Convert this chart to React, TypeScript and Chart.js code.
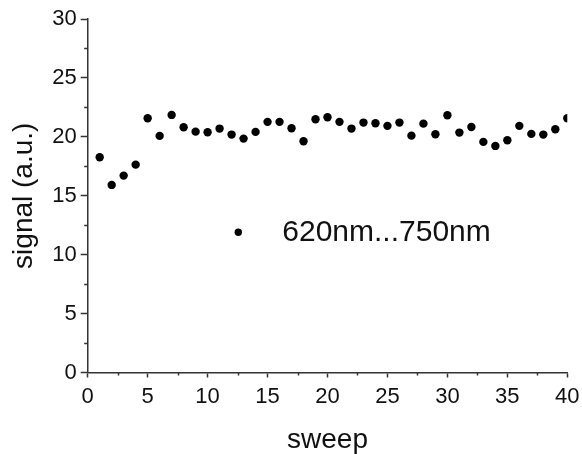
import React, { useEffect, useRef } from "react";
import { Chart, registerables } from "chart.js";

Chart.register(...registerables);

const sweeps = [1, 2, 3, 4, 5, 6, 7, 8, 9, 10, 11, 12, 13, 14, 15, 16, 17, 18, 19, 20,
  21, 22, 23, 24, 25, 26, 27, 28, 29, 30, 31, 32, 33, 34, 35, 36, 37, 38, 39, 40];
const signal = [18.27, 15.92, 16.71, 17.64, 21.58, 20.08, 21.86, 20.81, 20.44, 20.39,
  20.70, 20.19, 19.85, 20.42, 21.27, 21.27, 20.73, 19.63, 21.49, 21.66,
  21.27, 20.70, 21.21, 21.15, 20.93, 21.21, 20.10, 21.12, 20.22, 21.83,
  20.36, 20.84, 19.57, 19.23, 19.71, 20.93, 20.25, 20.19, 20.64, 21.58];
const seriesLabel = "620nm...750nm";
const xTitle = "sweep";
const yTitle = "signal (a.u.)";
const xMinorTicks = [2.5, 7.5, 12.5, 17.5, 22.5, 27.5, 32.5, 37.5];
const yMinorTicks = [2.5, 7.5, 12.5, 17.5, 22.5, 27.5];

const FONT = "'Liberation Sans', Arial, sans-serif";
const INK = "#111111";
const AXIS = "#333333";

const decorPlugin = {
  id: "decor",
  afterDraw(chart: any) {
    const ctx = chart.ctx;
    const xs = chart.scales.x;
    const ys = chart.scales.y;
    ctx.save();
    ctx.strokeStyle = AXIS;
    ctx.lineWidth = 1.5;
    ctx.beginPath();
    for (const v of xMinorTicks) {
      const px = Math.round(xs.getPixelForValue(v)) + 0.5;
      ctx.moveTo(px, ys.bottom);
      ctx.lineTo(px, ys.bottom + 3);
    }
    for (const v of yMinorTicks) {
      const py = Math.round(ys.getPixelForValue(v)) + 0.5;
      ctx.moveTo(xs.left, py);
      ctx.lineTo(xs.left - 3.5, py);
    }
    ctx.stroke();
    // legend
    const lx = xs.getPixelForValue(12.56);
    const ly = ys.getPixelForValue(11.9);
    ctx.fillStyle = "#000";
    ctx.beginPath();
    ctx.arc(lx, ly, 3.7, 0, Math.PI * 2);
    ctx.fill();
    ctx.fillStyle = INK;
    ctx.font = `30px ${FONT}`;
    ctx.textBaseline = "middle";
    ctx.textAlign = "left";
    ctx.fillText(chart.data.datasets[0].label, lx + 44, ly);
    ctx.restore();
  },
};

export default function App() {
  const ref = useRef<HTMLCanvasElement>(null);
  useEffect(() => {
    const chart = new Chart(ref.current!, {
      type: "scatter",
      data: {
        datasets: [
          {
            label: seriesLabel,
            data: sweeps.map((s, i) => ({ x: s, y: signal[i] })),
            backgroundColor: "#000",
            borderWidth: 0,
            pointRadius: 4.2,
            pointHoverRadius: 4.2,
            clip: 0,
          },
        ],
      },
      options: {
        animation: false,
        responsive: false,
        devicePixelRatio: 1,
        layout: { padding: { top: 19, right: 14.7, left: 0, bottom: 0 } },
        plugins: { legend: { display: false }, tooltip: { enabled: false } },
        scales: {
          x: {
            type: "linear",
            min: 0,
            max: 40,
            afterFit: (s: any) => { s.height = 81.5; s.paddingLeft = 0; s.paddingRight = 0; },
            border: { display: true, color: AXIS, width: 1.5 },
            grid: { display: true, drawOnChartArea: false, drawTicks: true, tickLength: 5, tickColor: AXIS, tickWidth: 1.5 },
            ticks: { stepSize: 5, color: INK, font: { family: FONT, size: 22 }, padding: 6, maxRotation: 0 },
            title: { display: true, text: xTitle, color: INK, font: { family: FONT, size: 28 }, padding: { top: 0, bottom: -3 } },
          },
          y: {
            type: "linear",
            min: 0,
            max: 30,
            afterFit: (s: any) => { s.width = 87.7; s.paddingTop = 0; s.paddingBottom = 0; },
            border: { display: true, color: AXIS, width: 1.5 },
            grid: { display: true, drawOnChartArea: false, drawTicks: true, tickLength: 7, tickColor: AXIS, tickWidth: 1.5 },
            ticks: { stepSize: 5, color: INK, font: { family: FONT, size: 22 }, padding: 4 },
            title: { display: true, text: yTitle, color: INK, font: { family: FONT, size: 28 }, padding: { top: 7, bottom: 0 } },
          },
        },
      },
      plugins: [decorPlugin],
    } as any);
    return () => chart.destroy();
  }, []);
  return (
    <div style={{ position: "fixed", left: 0, top: 0, width: 582, height: 454, background: "#fff" }}>
      <canvas ref={ref} width={582} height={454} style={{ width: 582, height: 454, display: "block" }} />
    </div>
  );
}
